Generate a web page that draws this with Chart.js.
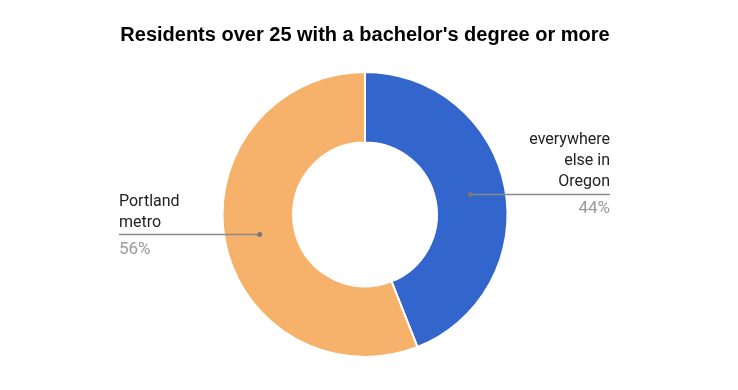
<!DOCTYPE html>
<html>
<head>
<meta charset="utf-8">
<script src="https://cdn.jsdelivr.net/npm/chart.js@4/dist/chart.umd.min.js"></script>
<style>
  html, body { margin: 0; padding: 0; background: #fff; }
  #wrap { width: 738px; height: 390px; }
</style>
</head>
<body>
<div id="wrap"><canvas id="chart" width="738" height="390"></canvas></div>
<script>
// 数据
const chartTitle = "Residents over 25 with a bachelor's degree or more";
const categories = [['everywhere', 'else in', 'Oregon'], ['Portland', 'metro']];
const values = [44, 56];
const sliceColors = ['#3366cc', '#f6b26b'];

// 引线标签插件
const leaderLabels = {
  id: 'leaderLabels',
  afterDatasetsDraw(chart) {
    const ctx = chart.ctx;
    const meta = chart.getDatasetMeta(0);
    const total = values.reduce((a, b) => a + b, 0);
    meta.data.forEach((arc, i) => {
      const p = arc.getProps(['x', 'y', 'startAngle', 'endAngle', 'innerRadius', 'outerRadius'], true);
      const mid = (p.startAngle + p.endAngle) / 2;
      const r = (p.innerRadius + p.outerRadius) / 2;
      const px = p.x + Math.cos(mid) * r;
      const py = p.y + Math.sin(mid) * r;
      const right = Math.cos(mid) >= 0;
      const endX = right ? 610 : 119;

      ctx.save();
      ctx.strokeStyle = '#8a8a8a';
      ctx.lineWidth = 1.5;
      ctx.beginPath();
      ctx.moveTo(px, py);
      ctx.lineTo(endX, py);
      ctx.stroke();
      ctx.fillStyle = '#777';
      ctx.beginPath();
      ctx.arc(px, py, 2.5, 0, Math.PI * 2);
      ctx.fill();

      ctx.font = '16px Roboto, "Liberation Sans", sans-serif';
      ctx.textAlign = right ? 'right' : 'left';
      ctx.textBaseline = 'alphabetic';
      ctx.fillStyle = '#222';
      const lines = categories[i];
      lines.forEach((t, k) => {
        ctx.fillText(t, endX, py - 8 - (lines.length - 1 - k) * 21);
      });
      ctx.font = '17px Roboto, "Liberation Sans", sans-serif';
      ctx.fillStyle = '#9a9a9a';
      ctx.fillText(Math.round(values[i] / total * 100) + '%', endX, py + 19);
      ctx.restore();
    });
  }
};

new Chart(document.getElementById('chart'), {
  type: 'doughnut',
  data: {
    labels: categories.map(c => c.join(' ')),
    datasets: [{
      data: values,
      backgroundColor: sliceColors,
      borderColor: '#ffffff',
      borderWidth: 2,
      hoverOffset: 0
    }]
  },
  options: {
    responsive: false,
    animation: false,
    cutout: '50.5%',
    layout: {
      padding: { left: 0, right: 8, top: 0, bottom: 32 }
    },
    plugins: {
      legend: { display: false },
      tooltip: { enabled: false },
      title: {
        display: true,
        text: chartTitle,
        color: '#000',
        font: { family: '"Liberation Sans", Arial, sans-serif', size: 20, weight: 'bold', lineHeight: 1.2 },
        padding: { top: 23, bottom: 24 }
      }
    }
  },
  plugins: [leaderLabels]
});
</script>
</body>
</html>
